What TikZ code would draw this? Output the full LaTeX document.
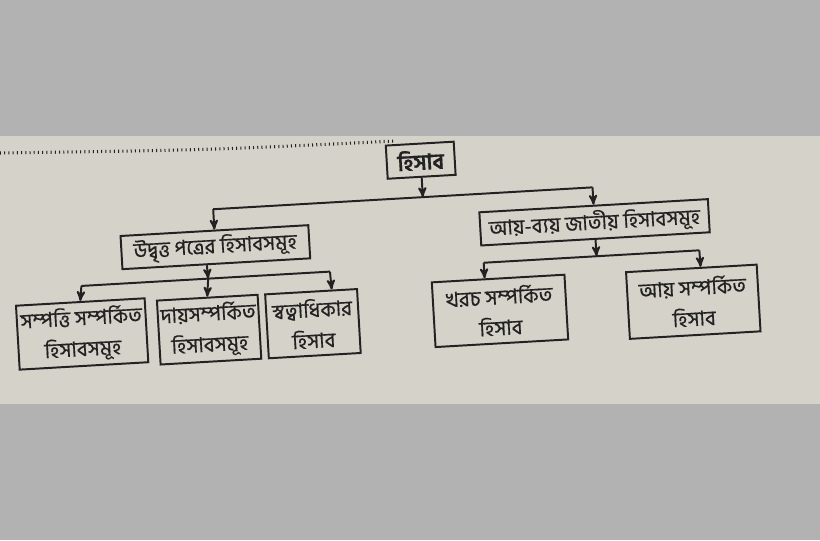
\documentclass[tikz,border=0pt]{standalone}
\usepackage{fontspec}
\newfontfamily\bn[Script=Bengali, FakeBold=0.5]{Hind Siliguri}
\usetikzlibrary{calc}
\usetikzlibrary{arrows}
\definecolor{paper}{RGB}{212,210,201}
\definecolor{backdrop}{RGB}{178,178,178}
\definecolor{ink}{RGB}{34,34,34}
\tikzset{
 hbox/.style={draw=ink, line width=1.4pt, fill=paper, inner sep=1pt, align=center, text=ink, font=\bn\fontsize{14.7}{22}\selectfont},
 link/.style={draw=ink, line width=1.4pt},
 arr/.style={link, ->, >=stealth'},
}

\begin{document}
\begin{tikzpicture}[x=0.025cm, y=0.025cm]
\useasboundingbox (-410,-270) rectangle (410,270);
\fill[backdrop] (-410,-270) rectangle (410,270);
\fill[paper] (-410,-134) rectangle (410,134);
\draw[ink, line width=2.2pt, dash pattern=on 0.7pt off 2.3pt] (-410,117) .. controls (-200,120) .. (-15,129);

\begin{scope}[rotate=3.3, transform shape]
% boxes
\node[hbox, font=\bn\bfseries\fontsize{15.5}{22}\selectfont, minimum width=1.7cm, minimum height=0.83cm] (hisab) at (17,109) {হিসাব};
\node[hbox, minimum width=4.7cm, minimum height=0.83cm] (lm) at (-193,34) {উদ্বৃত্ত পত্রের হিসাবসমূহ};
\node[hbox, minimum width=5.72cm, minimum height=0.83cm] (rm) at (187,37) {আয়-ব্যয় জাতীয় হিসাবসমূহ};
\node[hbox, minimum width=3.22cm, minimum height=1.6cm] (b1) at (-331,-45) {সম্পত্তি সম্পর্কিত\\হিসাবসমূহ};
\node[hbox, minimum width=2.52cm, minimum height=1.6cm] (b2) at (-204,-48) {দায়সম্পর্কিত\\হিসাবসমূহ};
\node[hbox, minimum width=2.3cm, minimum height=1.6cm] (b3) at (-100,-48) {স্বত্বাধিকার\\হিসাব};
\node[hbox, minimum width=3.32cm, minimum height=1.62cm] (b4) at (87.5,-46) {খরচ সম্পর্কিত\\হিসাব};
\node[hbox, minimum width=3.27cm, minimum height=1.67cm] (b5) at (281,-48) {আয় সম্পর্কিত\\হিসাব};

% junctions
\coordinate (hj) at (17,72);
\coordinate (lmj) at (-193,72);
\coordinate (rmj) at (187,72);
\coordinate (lbm) at (-202,3);
\coordinate (lbl) at (-329,3);
\coordinate (lbr) at (-80,3);
\coordinate (rbm) at (187,3);
\coordinate (rbl) at (74,3);
\coordinate (rbr) at (290,3);

% connectors
\draw[arr] (hisab.south) -- (hj);
\draw[link] (lmj) -- (rmj);
\draw[arr] (lmj) -- (lm.north);
\draw[arr] (rmj) -- (rm.north);

\draw[arr] ($(lm.south west)!0.45!(lm.south east)$) -- (lbm);
\draw[link] (lbl) -- (lbr);
\draw[arr] (lbl) -- (b1.north);
\draw[arr] (lbm) -- (b2.north);
\draw[arr] (lbr) -- ($(b3.north west)!0.72!(b3.north east)$);

\draw[arr] (rm.south) -- (rbm);
\draw[link] (rbl) -- (rbr);
\draw[arr] (rbl) -- ($(b4.north west)!0.4!(b4.north east)$);
\draw[arr] (rbr) -- ($(b5.north west)!0.57!(b5.north east)$);
\end{scope}
\end{tikzpicture}
\end{document}
